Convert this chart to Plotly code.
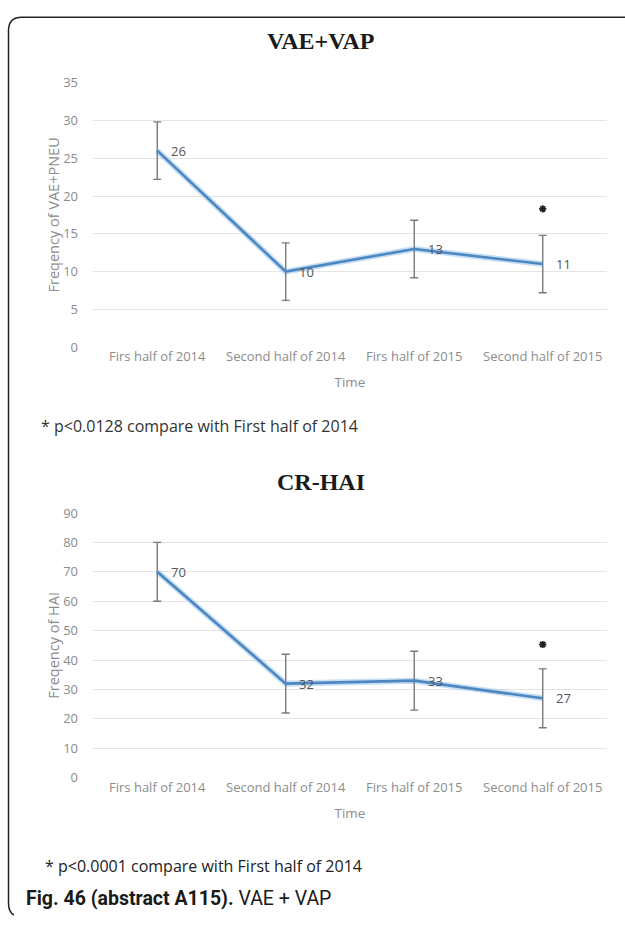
import plotly.graph_objects as go

categories = ["Firs half of 2014", "Second half of 2014", "Firs half of 2015", "Second half of 2015"]
vae_values = [26, 10, 13, 11]
vae_error = [3.8, 3.8, 3.8, 3.8]
vae_star = 18.3
hai_values = [70, 32, 33, 27]
hai_error = [10, 10, 10, 10]
hai_star = 45.3

W, H = 625, 925
BLUE = "#4d87c2"
HALO = "rgba(160,200,235,0.6)"
TICK = "#8c8c8c"
GRID = "#e4e4e4"
SANS = "Open Sans, Noto Sans, sans-serif"


def fy(p):
    return 1 - p / H


def fx(p):
    return p / W


fig = go.Figure()

for vals, errs, star, xa, ya in [(vae_values, vae_error, vae_star, "x", "y"),
                                 (hai_values, hai_error, hai_star, "x2", "y2")]:
    fig.add_trace(go.Scatter(x=categories, y=vals, mode="lines",
                             line=dict(color=HALO, width=6), xaxis=xa, yaxis=ya,
                             hoverinfo="skip", showlegend=False))
    fig.add_trace(go.Scatter(x=categories, y=vals, mode="lines",
                             line=dict(color=BLUE, width=2.6), xaxis=xa, yaxis=ya,
                             error_y=dict(type="data", array=errs, visible=True,
                                          color="#7a7a7a", thickness=1.4, width=4),
                             showlegend=False))
    fig.add_trace(go.Scatter(x=[categories[-1]], y=[star], mode="markers",
                             marker=dict(symbol="asterisk-open", size=6, color="#222",
                                         line=dict(color="#222", width=1.8)),
                             xaxis=xa, yaxis=ya, showlegend=False))

xdom = [fx(93), fx(607)]
tickfont = dict(family=SANS, size=13, color=TICK)
xcommon = dict(domain=xdom, type="category", range=[-0.5, 3.5], showgrid=False,
               zeroline=False, showline=False, ticks="", tickfont=tickfont,
               title=dict(text="Time", font=dict(family=SANS, size=13.5, color=TICK),
                          standoff=13))
ycommon = dict(showgrid=True, gridcolor=GRID, gridwidth=1, zeroline=False,
               showline=False, ticks="", tickfont=tickfont, ticklabelstandoff=14)

fig.update_layout(
    width=W, height=H, margin=dict(l=0, r=0, t=0, b=0),
    paper_bgcolor="white", plot_bgcolor="white",
    xaxis=dict(xcommon, anchor="y"),
    yaxis=dict(ycommon, domain=[fy(345), fy(75)], range=[0, 35], dtick=5, anchor="x",
               title=dict(text="Freqency of VAE+PNEU",
                          font=dict(family=SANS, size=14.5, color=TICK),
                          standoff=0)),
    xaxis2=dict(xcommon, anchor="y2"),
    yaxis2=dict(ycommon, domain=[fy(784), fy(514)], range=[0, 90], dtick=10, anchor="x2",
                title=dict(text="Freqency of HAI",
                           font=dict(family=SANS, size=14.5, color=TICK),
                           standoff=0)),
)

annotations = []
for c, v in zip(categories, vae_values):
    annotations.append(dict(x=c, y=v, xref="x", yref="y", text=str(v), showarrow=False,
                            xshift=21, font=dict(family=SANS, size=13, color="#555")))
for c, v in zip(categories, hai_values):
    annotations.append(dict(x=c, y=v, xref="x2", yref="y2", text=str(v), showarrow=False,
                            xshift=21, font=dict(family=SANS, size=13, color="#555")))

annotations += [
    dict(x=fx(321), y=fy(33), xref="paper", yref="paper", xanchor="center", yanchor="middle",
         text="<b>VAE+VAP</b>", showarrow=False,
         font=dict(family="Liberation Serif, serif", size=24, color="#1a1a1a")),
    dict(x=fx(321), y=fy(482), xref="paper", yref="paper", xanchor="center", yanchor="middle",
         text="<b>CR-HAI</b>", showarrow=False,
         font=dict(family="Liberation Serif, serif", size=24, color="#1a1a1a")),
    dict(x=fx(39), y=fy(425), xref="paper", yref="paper", xanchor="left", yanchor="middle",
         text="* p<0.0128 compare with First half of 2014", showarrow=False,
         font=dict(family=SANS, size=16, color="#333")),
    dict(x=fx(43), y=fy(874), xref="paper", yref="paper", xanchor="left", yanchor="middle",
         text="* p<0.0001 compare with First half of 2014", showarrow=False,
         font=dict(family=SANS, size=16, color="#222")),
    dict(x=fx(24), y=fy(907), xref="paper", yref="paper", xanchor="left", yanchor="middle",
         text="<b>Fig. 46 (abstract A115).</b> VAE + VAP", showarrow=False,
         font=dict(family="Roboto, sans-serif", size=19.5, color="#1a1a1a")),
]
fig.update_layout(annotations=annotations)

# border (rounded on the left side, open on the right)
fig.add_shape(type="path", xref="paper", yref="paper",
              path=f"M 1,{fy(8.5)} L {fx(22)},{fy(8.5)} Q {fx(8.5)},{fy(8.5)} {fx(8.5)},{fy(22)} "
                   f"L {fx(8.5)},{fy(912)} Q {fx(8.5)},{fy(921)} {fx(14)},{fy(924)}",
              line=dict(color="#222", width=1.5))

fig.write_html("out.html", config={"displayModeBar": False},
               post_script="document.body.style.margin='0';document.body.style.overflow='hidden';")
